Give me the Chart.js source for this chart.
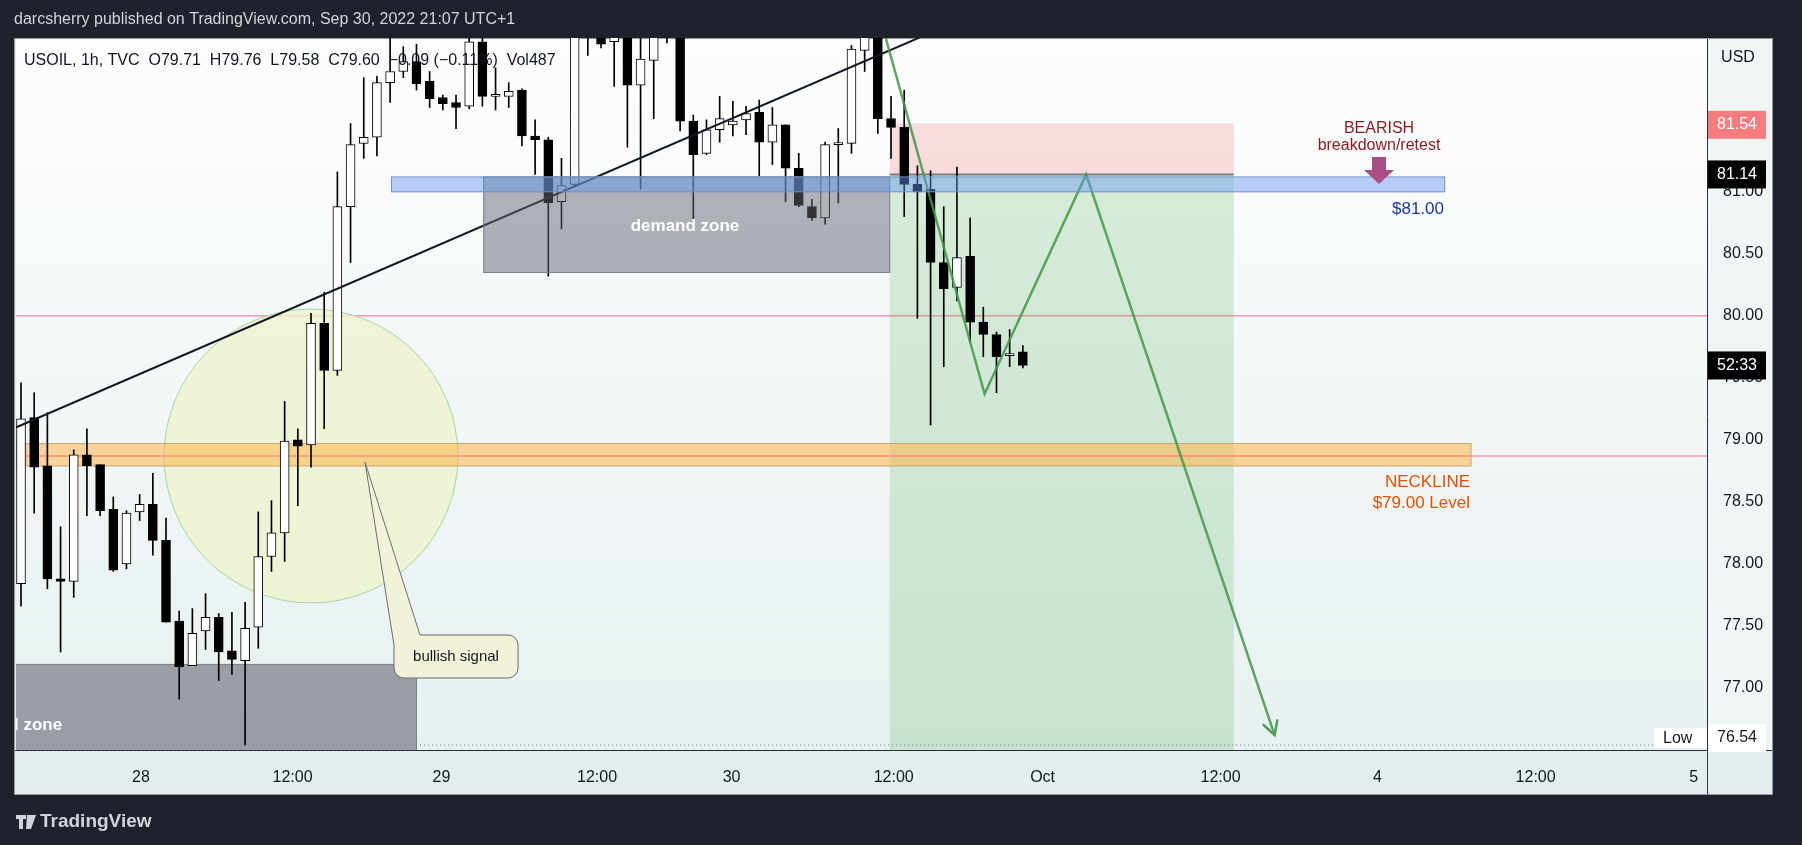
<!DOCTYPE html>
<html>
<head>
<meta charset="utf-8">
<script src="https://cdn.jsdelivr.net/npm/chart.js@4.4.0/dist/chart.umd.min.js"></script>
<style>
  html, body { margin: 0; padding: 0; background: #1e222d; }
  #wrap { width: 1802px; height: 845px; }
</style>
</head>
<body>
<div id="wrap"><canvas id="usoil" width="1802" height="845"></canvas></div>
<script>
// USOIL 1h candles (bar index 0..76)
const opens  = [77.84,79.18,78.79,77.88,77.86,78.88,78.80,78.44,78.00,78.42,78.48,78.19,77.54,77.18,77.46,77.57,77.30,77.22,77.49,78.06,78.25,79.00,78.96,79.94,79.56,80.88,81.39,81.44,81.88,81.97,82.05,81.89,81.76,81.72,81.69,82.21,81.77,81.77,81.82,81.45,81.42,80.92,81.06,82.45,82.50,82.21,82.50,81.86,82.06,82.40,82.50,81.57,81.31,81.50,81.54,81.58,81.64,81.40,81.54,81.19,80.88,80.79,81.38,81.39,82.14,82.35,81.59,81.52,81.06,81.02,80.43,80.23,80.48,79.95,79.85,79.68,79.71];
const highs  = [79.46,79.38,79.22,78.30,78.92,79.09,78.80,78.54,78.43,78.56,78.73,78.37,77.62,77.64,77.76,77.60,77.61,77.69,78.42,78.51,79.31,79.09,80.02,80.19,81.16,81.55,81.92,81.93,82.30,82.17,82.19,81.97,81.78,81.78,82.40,82.40,82.00,81.88,81.83,81.58,81.44,81.27,82.60,82.70,82.70,82.50,82.60,82.35,82.45,82.60,82.60,81.62,81.58,81.77,81.73,81.69,81.74,81.68,81.54,81.31,80.94,81.40,81.51,82.18,82.40,82.45,81.77,81.82,81.21,81.17,80.88,81.20,80.79,80.07,79.87,79.89,79.76];
const lows   = [77.66,78.41,77.80,77.29,77.73,78.39,78.39,77.94,77.96,78.35,78.07,77.53,76.91,77.18,77.31,77.06,77.11,76.54,77.32,77.94,78.02,78.47,78.78,79.09,79.52,80.43,81.27,81.29,81.72,81.92,81.82,81.68,81.66,81.51,81.67,81.69,81.66,81.68,81.37,81.14,80.32,80.70,81.04,82.10,82.16,81.85,81.36,81.02,81.59,82.20,81.49,80.76,81.30,81.40,81.45,81.46,81.13,81.22,80.92,80.88,80.77,80.74,80.91,81.31,81.97,81.47,81.27,80.80,79.98,79.12,79.59,80.12,79.79,79.67,79.38,79.59,79.58];
const closes = [79.17,78.78,77.88,77.86,78.88,78.79,78.43,77.95,78.41,78.48,78.19,77.53,77.17,77.44,77.57,77.29,77.23,77.48,78.06,78.25,78.99,78.95,79.94,79.56,80.88,81.38,81.44,81.88,81.97,82.05,81.87,81.75,81.71,81.68,82.21,81.77,81.78,81.81,81.45,81.42,80.91,81.05,82.45,82.60,82.19,82.40,81.86,82.07,82.35,82.50,81.57,81.30,81.50,81.59,81.57,81.63,81.40,81.54,81.19,80.89,80.79,81.38,81.39,82.15,82.30,81.59,81.52,81.06,81.00,80.43,80.22,80.47,79.95,79.85,79.67,79.68,79.60];

// time axis labels (bar positions) and price ticks
const timeTickPos = [9.1, 20.6, 31.9, 43.7, 53.9, 66.2, 77.5, 91.0, 102.9, 114.9, 126.9];
const timeTickLabels = ['28','12:00','29','12:00','30','12:00','Oct','12:00','4','12:00','5'];
const priceTicks = [77.0, 77.5, 78.0, 78.5, 79.0, 79.5, 80.0, 80.5, 81.0, 81.5];

// drawings
const trendX = [-0.4, 72];
const trendY = [79.10, 82.42];
const pathX = [65.0, 73.1, 80.8, 95.1];
const pathY = [82.47, 79.37, 81.14, 76.62];

const n = opens.length;
const bodies = opens.map((o, i) => ({ x: i, y: [o, closes[i]] }));
const wicks = highs.map((h, i) => ({ x: i, y: [lows[i], h] }));
const bodyColors = opens.map((o, i) => closes[i] >= o ? '#ffffff' : '#000000');

const FONT = '"Liberation Sans Narrow", "Liberation Sans", sans-serif';

const tv = {
  id: 'tv',
  beforeDraw(chart) {
    const c = chart.ctx, a = chart.chartArea;
    c.save();
    c.fillStyle = '#1e222d';
    c.fillRect(0, 0, 1802, 845);
    c.fillStyle = '#e4eded';
    c.fillRect(14, 38, 1759, 757);
    const g = c.createLinearGradient(0, a.top, 0, a.bottom);
    g.addColorStop(0, '#fdfdfe');
    g.addColorStop(1, '#e7f0f0');
    c.fillStyle = g;
    c.fillRect(a.left, a.top, a.right - a.left, a.bottom - a.top);
    c.fillStyle = '#f0f5f5';
    c.fillRect(a.right, a.top, 1773 - a.right, a.bottom - a.top);
    c.strokeStyle = '#2a2e39';
    c.lineWidth = 1;
    c.beginPath();
    c.moveTo(a.right + 0.5, 38); c.lineTo(a.right + 0.5, 795);
    c.moveTo(14, a.bottom + 0.5); c.lineTo(1773, a.bottom + 0.5);
    c.stroke();
    c.strokeStyle = '#9598a1';
    c.strokeRect(14.5, 38.5, 1758, 756);
    // header
    c.fillStyle = '#d1d4dc';
    c.font = '16px ' + FONT;
    c.textBaseline = 'middle';
    c.fillText('darcsherry published on TradingView.com, Sep 30, 2022 21:07 UTC+1', 14, 20);
    c.font = 'bold 19px ' + FONT;
    c.fillText('TradingView', 40, 822);
    c.fillRect(16, 815, 10, 4); c.fillRect(19, 815, 4, 14);
    c.beginPath(); c.moveTo(27, 815); c.lineTo(36, 815); c.lineTo(31, 829); c.lineTo(26, 829); c.fill();
    c.restore();
  },
  beforeDatasetsDraw(chart) {
    const c = chart.ctx, a = chart.chartArea;
    const X = chart.scales.x, Y = chart.scales.y;
    const rect = (x0, x1, p0, p1, fill, stroke) => {
      const l = X.getPixelForValue(x0), r = X.getPixelForValue(x1);
      const t = Y.getPixelForValue(p1), b = Y.getPixelForValue(p0);
      c.fillStyle = fill; c.fillRect(l, t, r - l, b - t);
      if (stroke) { c.strokeStyle = stroke; c.lineWidth = 1; c.strokeRect(l, t, r - l, b - t); }
    };
    c.save();
    c.beginPath(); c.rect(a.left, a.top, a.right - a.left, a.bottom - a.top); c.clip();
    // horizontal levels
    c.strokeStyle = '#f29ab0'; c.lineWidth = 1.5;
    [80.0, 78.87].forEach(p => {
      const y = Y.getPixelForValue(p);
      c.beginPath(); c.moveTo(a.left, y); c.lineTo(a.right, y); c.stroke();
    });
    // circle
    const cx = X.getPixelForValue(22.0), cy = Y.getPixelForValue(78.87);
    const r = X.getPixelForValue(22.0 + 11.15) - cx;
    c.beginPath(); c.arc(cx, cy, r, 0, Math.PI * 2);
    c.fillStyle = 'rgba(238,244,200,0.75)'; c.fill();
    c.strokeStyle = '#a5d6a7'; c.lineWidth = 1; c.stroke();
    // zones
    rect(-1, 30.0, 76.3, 77.19, 'rgba(120,123,134,0.7)', '#787b86');
    rect(65.9, 92.0, 81.14, 81.55, 'rgba(247,124,128,0.25)');
    rect(65.9, 92.0, 76.3, 81.14, 'rgba(76,175,80,0.2)');
    c.strokeStyle = '#787b86'; c.lineWidth = 2;
    c.beginPath(); c.moveTo(X.getPixelForValue(65.9), Y.getPixelForValue(81.14)); c.lineTo(X.getPixelForValue(92.0), Y.getPixelForValue(81.14)); c.stroke();
    rect(-1, 110.0, 78.79, 78.97, 'rgba(255,183,77,0.55)', '#c9a56a');
    c.strokeStyle = '#f29a80'; c.lineWidth = 1.5;
    c.beginPath(); c.moveTo(a.left, Y.getPixelForValue(78.87)); c.lineTo(X.getPixelForValue(110), Y.getPixelForValue(78.87)); c.stroke();
    // low dotted
    c.setLineDash([1, 3]); c.strokeStyle = '#787b86'; c.lineWidth = 1;
    const ly = Y.getPixelForValue(76.54);
    c.beginPath(); c.moveTo(a.left, ly); c.lineTo(a.right, ly); c.stroke();
    c.setLineDash([]);
    c.restore();
  },
  afterDatasetsDraw(chart) {
    const c = chart.ctx, a = chart.chartArea;
    const X = chart.scales.x, Y = chart.scales.y;
    const rect = (x0, x1, p0, p1, fill, stroke) => {
      const l = X.getPixelForValue(x0), r = X.getPixelForValue(x1);
      const t = Y.getPixelForValue(p1), b = Y.getPixelForValue(p0);
      c.fillStyle = fill; c.fillRect(l, t, r - l, b - t);
      if (stroke) { c.strokeStyle = stroke; c.lineWidth = 1; c.strokeRect(l, t, r - l, b - t); }
    };
    c.save();
    c.beginPath(); c.rect(a.left, a.top, a.right - a.left, a.bottom - a.top); c.clip();
    rect(35.1, 65.9, 80.35, 81.12, 'rgba(100,104,116,0.5)', '#787b86');
    rect(28.1, 108.0, 81.0, 81.12, 'rgba(100,150,240,0.45)', '#6f8fc9');
    // arrowhead of projected path
    const ex = X.getPixelForValue(pathX[3]), ey = Y.getPixelForValue(pathY[3]);
    const ang = Math.atan2(ey - Y.getPixelForValue(pathY[2]), ex - X.getPixelForValue(pathX[2]));
    c.strokeStyle = '#4f9d52'; c.lineWidth = 2.5;
    c.beginPath();
    c.moveTo(ex - 16 * Math.cos(ang - 0.5), ey - 16 * Math.sin(ang - 0.5));
    c.lineTo(ex, ey);
    c.lineTo(ex - 16 * Math.cos(ang + 0.5), ey - 16 * Math.sin(ang + 0.5));
    c.stroke();
    // callout
    const tx = X.getPixelForValue(26.1), ty = Y.getPixelForValue(78.82);
    c.fillStyle = '#f1f2d8'; c.strokeStyle = '#6a6d78'; c.lineWidth = 1;
    c.beginPath();
    c.moveTo(tx, ty); c.lineTo(420, 635); c.lineTo(508, 635);
    c.arcTo(518, 635, 518, 645, 10); c.lineTo(518, 668); c.arcTo(518, 678, 508, 678, 10);
    c.lineTo(404, 678); c.arcTo(394, 678, 394, 668, 10); c.lineTo(394, 645);
    c.closePath(); c.fill(); c.stroke();
    c.fillStyle = '#131722'; c.font = '15px ' + FONT; c.textBaseline = 'middle'; c.textAlign = 'center';
    c.fillText('bullish signal', 456, 657);
    // texts
    c.fillStyle = '#ffffff'; c.font = 'bold 17px ' + FONT;
    c.fillText('demand zone', 685, 226);
    c.textAlign = 'left';
    c.fillText('l zone', 14, 725);
    c.textAlign = 'center';
    c.fillStyle = '#8b1a1a'; c.font = '16px ' + FONT;
    c.fillText('BEARISH', 1379, 129);
    c.fillText('breakdown/retest', 1379, 146);
    c.fillStyle = '#a94f83';
    c.fillRect(1372, 157, 14, 15);
    c.beginPath(); c.moveTo(1364, 170); c.lineTo(1394, 170); c.lineTo(1379, 184); c.fill();
    c.textAlign = 'right';
    c.fillStyle = '#1a3b9c'; c.font = '17px ' + FONT;
    c.fillText('$81.00', 1444, 209);
    c.fillStyle = '#e65100';
    c.fillText('NECKLINE', 1470, 482);
    c.fillText('$79.00 Level', 1470, 503);
    c.textAlign = 'left';
    c.fillStyle = '#131722'; c.font = '16px ' + FONT;
    c.fillText('USOIL, 1h, TVC  O79.71  H79.76  L79.58  C79.60  \u22120.09 (\u22120.11%)  Vol487', 24, 61);
    c.restore();
  },
  afterDraw(chart) {
    const c = chart.ctx, a = chart.chartArea, Y = chart.scales.y;
    const box = (p, txt, bg, fg, y) => {
      const yy = y !== undefined ? y : Y.getPixelForValue(p);
      c.fillStyle = bg; c.fillRect(a.right + 1, yy - 14, 58, 28);
      c.fillStyle = fg; c.font = '16px ' + FONT; c.textAlign = 'center'; c.textBaseline = 'middle';
      c.fillText(txt, a.right + 30, yy);
    };
    c.save();
    box(81.54, '81.54', '#f77c80', '#ffffff');
    box(81.14, '81.14', '#000000', '#ffffff');
    box(79.60, '52:33', '#000000', '#ffffff');
    c.fillStyle = '#ffffff'; c.fillRect(1654, 728, a.right - 1654, 20);
    box(0, '76.54', '#ffffff', '#131722', 738);
    c.fillStyle = '#131722'; c.textAlign = 'left'; c.font = '16px ' + FONT;
    c.fillText('Low', 1663, 739);
    c.textAlign = 'center';
    c.fillText('USD', 1738, 58);
    c.restore();
  }
};

new Chart(document.getElementById('usoil'), {
  data: {
    datasets: [
      { type: 'bar', data: wicks, backgroundColor: '#000000', barThickness: 1, grouped: false, order: 3 },
      { type: 'bar', data: bodies, backgroundColor: bodyColors, borderColor: '#000000', borderWidth: 1,
        borderSkipped: false, barThickness: 9, minBarLength: 2, grouped: false, order: 2 },
      { type: 'line', data: trendX.map((x, i) => ({ x, y: trendY[i] })), borderColor: '#131722',
        borderWidth: 2, pointRadius: 0, order: 1 },
      { type: 'line', data: pathX.map((x, i) => ({ x, y: pathY[i] })), borderColor: 'rgba(67,150,70,0.85)',
        borderWidth: 2.5, pointRadius: 0, order: 0 }
    ]
  },
  options: {
    responsive: false,
    animation: false,
    layout: { padding: { left: 16, top: 38, right: 29, bottom: 50 } },
    plugins: { legend: { display: false }, tooltip: { enabled: false } },
    scales: {
      x: {
        type: 'linear', min: -0.38, max: 127.9, offset: false,
        grid: { display: false }, border: { display: false },
        afterBuildTicks(s) { s.ticks = timeTickPos.map(v => ({ value: v })); },
        afterFit(s) { s.height = 45; },
        ticks: { color: '#131722', font: { size: 16, family: FONT }, padding: 10, maxRotation: 0, autoSkip: false,
          callback: (v, i) => timeTickLabels[i] }
      },
      y: {
        position: 'right', min: 76.5, max: 82.24,
        grid: { display: false }, border: { display: false },
        afterBuildTicks(s) { s.ticks = priceTicks.map(v => ({ value: v })); },
        afterFit(s) { s.width = 66; },
        ticks: { color: '#131722', font: { size: 16, family: FONT }, padding: 8,
          callback: v => v.toFixed(2) }
      }
    }
  },
  plugins: [tv]
});
</script>
</body>
</html>
